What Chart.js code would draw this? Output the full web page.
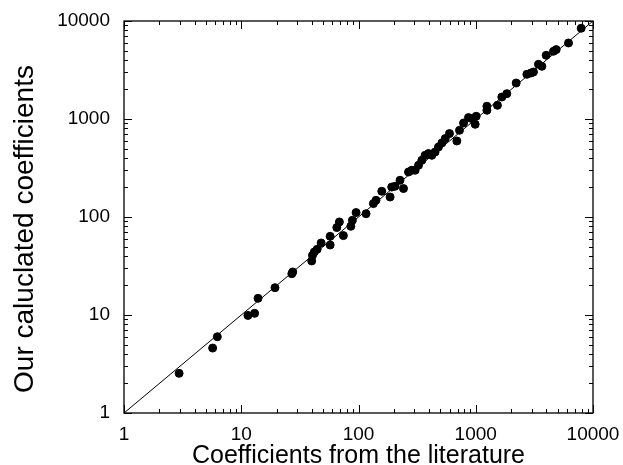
<!DOCTYPE html>
<html>
<head>
<meta charset="utf-8">
<script src="https://cdn.jsdelivr.net/npm/chart.js@4/dist/chart.umd.min.js"></script>
<style>
  body { margin: 0; background: #fff; }
  #wrap { width: 623px; height: 465px; }
</style>
</head>
<body>
<div id="wrap"><canvas id="coefChart"></canvas></div>
<script>
// values
const literature = [2.95, 5.7, 6.25, 11.4, 13.0, 13.9, 19.4, 27.0, 27.5, 39.9, 40.5, 42, 44.4, 48, 57.3, 57.3,
  65.3, 68.7, 74.3, 86, 88.7, 95.4, 116, 134, 141, 158, 186, 192, 205, 226, 242, 267, 285, 304, 325, 347,
  370, 395, 422, 450, 481, 514, 549, 597, 690, 727, 787, 867, 927, 989, 1009, 1245, 1245, 1531, 1668, 1841,
  2212, 2729, 2952, 3107, 3426, 3664, 3989, 4605, 4855, 6184, 7925];
const calculated = [2.54, 4.6, 6.0, 9.9, 10.4, 14.8, 19.0, 26.4, 27.5, 35.6, 40.6, 44, 46.8, 54.3, 51.8, 63.5,
  78, 89, 64.6, 80.4, 92.5, 111, 108, 137, 148, 183, 160, 202, 206, 237, 195, 288, 300, 300, 337, 379,
  426, 444, 426, 460, 518, 569, 631, 710, 597, 767, 910, 1033, 1009, 883, 1066, 1349, 1227, 1380, 1675, 1815,
  2329, 2857, 2946, 3017, 3614, 3451, 4468, 4910, 5107, 5970, 8433];
const identityLine = [1, 10000];
const tickLabels = [1, 10, 100, 1000, 10000];

const points = literature.map((v, i) => ({ x: v, y: calculated[i] }));
const diagonal = identityLine.map(v => ({ x: v, y: v }));

const fontFamily = "'Liberation Sans', Arial, sans-serif";

// frame + inward log ticks on all four sides, and the y title
const frameTicks = {
  id: 'frameTicks',
  afterDraw(chart) {
    const ctx = chart.ctx;
    const a = chart.chartArea;
    const xs = chart.scales.x, ys = chart.scales.y;
    ctx.save();
    ctx.strokeStyle = '#000';
    ctx.lineWidth = 1.3;
    ctx.strokeRect(a.left, a.top, a.right - a.left, a.bottom - a.top);
    ctx.lineWidth = 1;
    ctx.beginPath();
    for (let d = 0; d < tickLabels.length; d++) {
      const base = tickLabels[d];
      for (let m = 1; m <= 9; m++) {
        const v = base * m;
        if (v > 10000) break;
        const len = m === 1 ? 8 : 4;
        const px = Math.round(xs.getPixelForValue(v)) + 0.5;
        ctx.moveTo(px, a.bottom); ctx.lineTo(px, a.bottom - len);
        ctx.moveTo(px, a.top); ctx.lineTo(px, a.top + len);
        const py = Math.round(ys.getPixelForValue(v)) + 0.5;
        ctx.moveTo(a.left, py); ctx.lineTo(a.left + len, py);
        ctx.moveTo(a.right, py); ctx.lineTo(a.right - len, py);
      }
    }
    ctx.stroke();

    ctx.translate(33, (a.top + a.bottom) / 2 + 12);
    ctx.rotate(-Math.PI / 2);
    ctx.fillStyle = '#000';
    ctx.font = '28px ' + fontFamily;
    ctx.textAlign = 'center';
    ctx.textBaseline = 'alphabetic';
    ctx.fillText('Our caluclated coefficients', 0, 0);
    ctx.restore();
  }
};

// drop the label overhang padding so layout.padding alone sets the plot box
function noOverhang(s) {
  s.paddingTop = 0;
  s.paddingBottom = 0;
  s.paddingLeft = 0;
  s.paddingRight = 0;
}

const tickFont = { family: fontFamily, size: 19 };
const titleFont = { family: fontFamily, size: 25 };

new Chart(document.getElementById('coefChart'), {
  type: 'scatter',
  data: {
    datasets: [
      {
        data: points,
        backgroundColor: '#000',
        borderColor: '#000',
        pointRadius: 4,
        pointHoverRadius: 4
      },
      {
        type: 'line',
        data: diagonal,
        borderColor: '#000',
        borderWidth: 1,
        pointRadius: 0,
        fill: false
      }
    ]
  },
  options: {
    responsive: true,
    maintainAspectRatio: false,
    animation: false,
    layout: { padding: { top: 21, right: 30, left: 0, bottom: 0 } },
    plugins: { legend: { display: false }, tooltip: { enabled: false } },
    scales: {
      x: {
        type: 'logarithmic',
        min: 1,
        max: 10000,
        afterFit: s => { s.height = 52; noOverhang(s); },
        afterBuildTicks: s => { s.ticks = tickLabels.map(v => ({ value: v })); },
        grid: { display: false, drawTicks: false },
        border: { display: false },
        ticks: {
          autoSkip: false,
          maxRotation: 0,
          padding: 10,
          color: '#000',
          font: tickFont,
          callback: v => String(v)
        },
        title: {
          display: true,
          text: 'Coefficients from the literature',
          color: '#000',
          font: titleFont,
          padding: { top: 0, bottom: -6 }
        }
      },
      y: {
        type: 'logarithmic',
        min: 1,
        max: 10000,
        afterFit: s => { s.width = 124; noOverhang(s); },
        afterBuildTicks: s => { s.ticks = tickLabels.map(v => ({ value: v })); },
        grid: { display: false, drawTicks: false },
        border: { display: false },
        ticks: {
          autoSkip: false,
          padding: 14,
          color: '#000',
          font: tickFont,
          callback: v => String(v)
        }
      }
    }
  },
  plugins: [frameTicks]
});
</script>
</body>
</html>
